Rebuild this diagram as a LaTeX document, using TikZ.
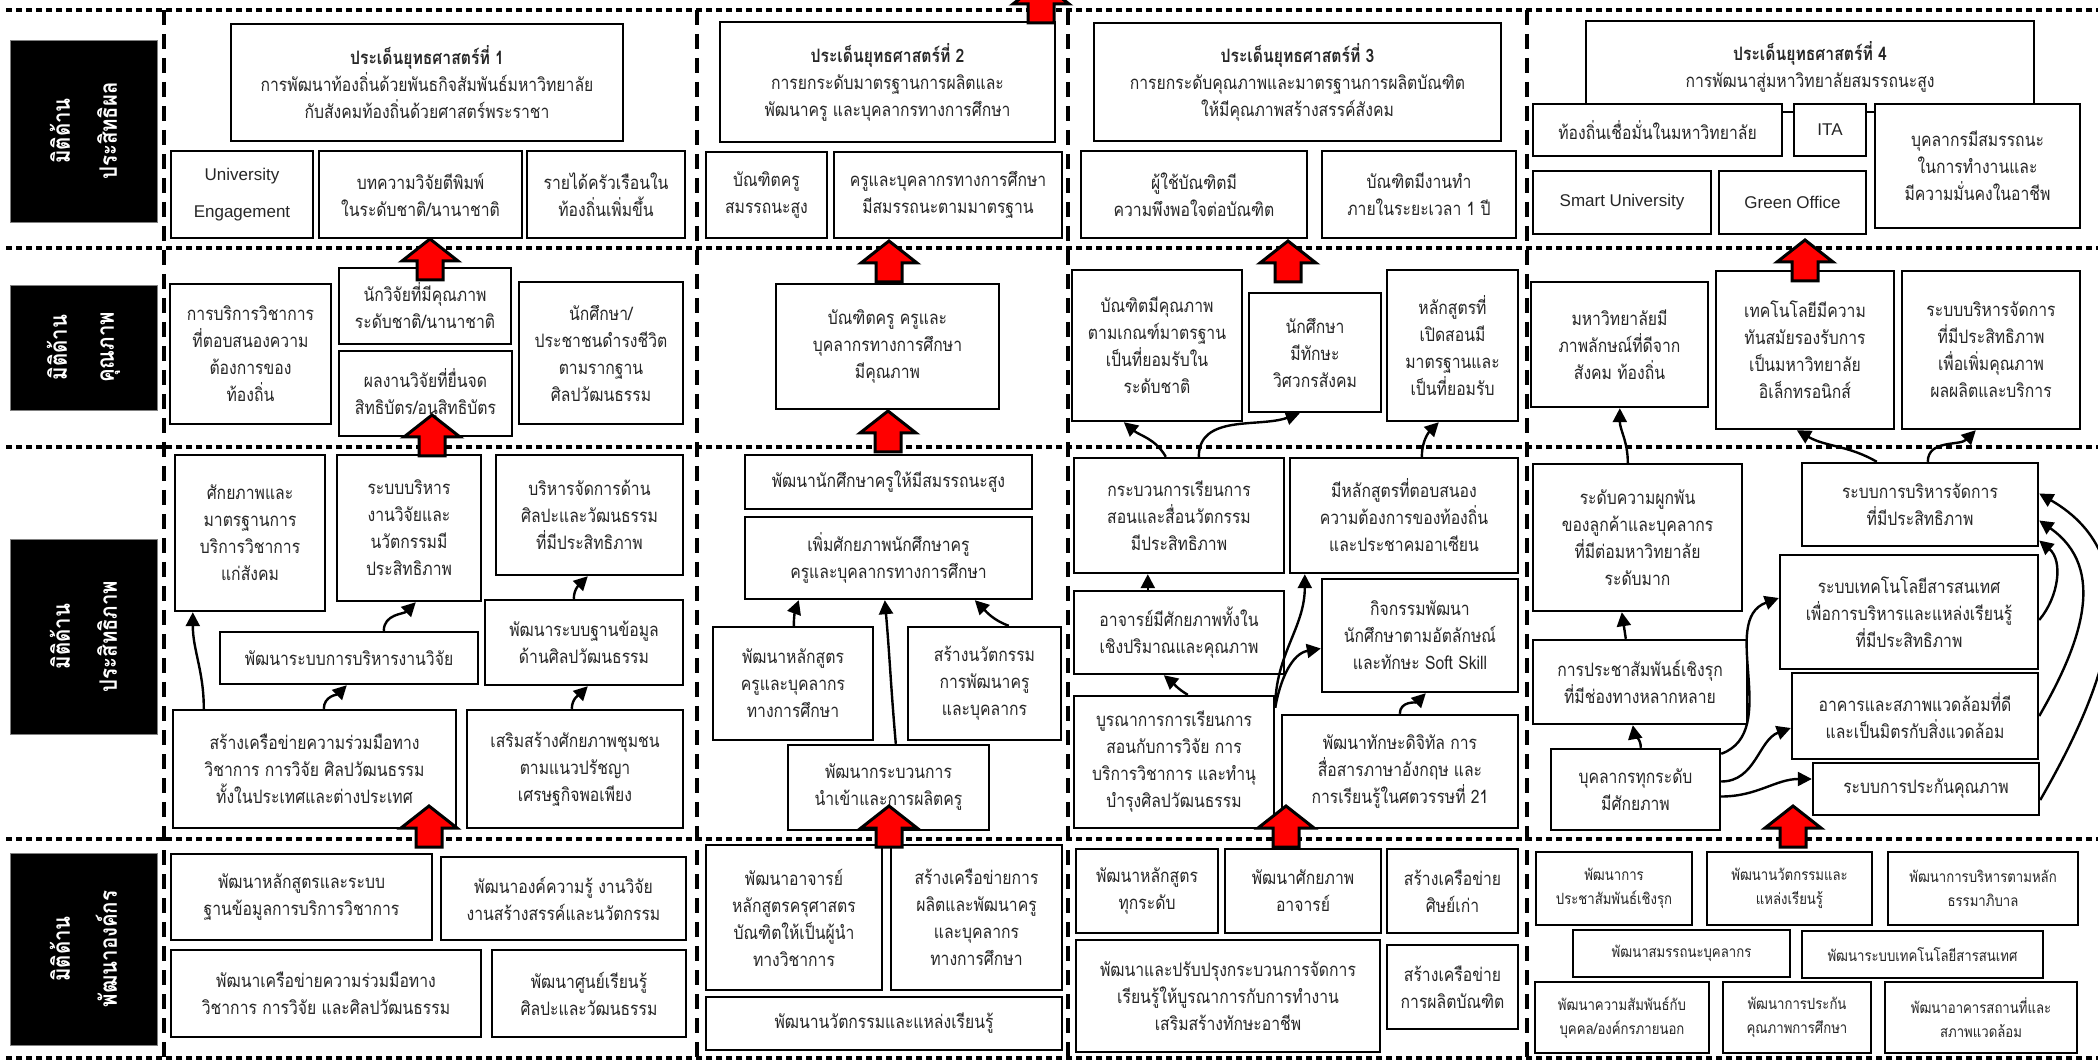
\documentclass[tikz,border=0pt]{standalone}
\usepackage{fontspec}
\setmainfont[Script=Thai,FakeStretch=0.85]{Loma}
\newfontfamily\latinfont{Liberation Sans}
\usetikzlibrary{arrows.meta}
\newcommand\tightlines{\lineskiplimit=-40pt\lineskip=0pt}
\tikzset{
 box/.style={draw=black, line width=2.4pt, fill=white, inner sep=0pt, align=center, text=black!85, font=\fontsize{18.5}{27}\selectfont\tightlines},
 small/.style={font=\fontsize{15.5}{24}\selectfont\tightlines},
 lat/.style={font=\latinfont\fontsize{17}{37}\selectfont},
 lab/.style={fill=black, draw=black!50, line width=0.8pt, text=white, align=center, inner sep=0pt, font=\bfseries\fontsize{24}{47}\selectfont\tightlines},
 hdots/.style={line width=4pt, dash pattern=on 6pt off 4pt},
 vdash/.style={line width=4pt, dash pattern=on 15pt off 9pt},
 arr/.style={line width=2.4pt, -{Triangle[length=14pt,width=14pt]}},
 redarr/.style={fill=red, draw=black, line width=3pt, line join=miter},
}
\newcommand\BX[7][]{\node[box,#1,minimum width={#5-#3},minimum height={#6-#4}] (#2) at ({(#3+#5)/2},{1061-(#4+#6)/2}) {#7};}
\newcommand\LB[6]{\node[lab,rotate=90,minimum width={#5-#3},minimum height={#4-#2}] (#1) at ({(#2+#4)/2},{1061-(#3+#5)/2}) {#6};}
\newcommand\RA[2]{\filldraw[redarr] ({#1},{1061-#2}) -- ({#1+28},{1061-#2-22}) -- ({#1+13},{1061-#2-22}) -- ({#1+13},{1061-#2-41}) -- ({#1-13},{1061-#2-41}) -- ({#1-13},{1061-#2-22}) -- ({#1-28},{1061-#2-22}) -- cycle;}
\begin{document}
\begin{tikzpicture}[x=1pt,y=1pt]
\useasboundingbox (0,0) rectangle (2098,1061);
\clip (0,0) rectangle (2098,1061);
\fill[white] (0,0) rectangle (2098,1061);
% grid
\foreach \yy in {10,248,447,839,1058} \draw[hdots] (6,{1061-\yy}) -- (2098,{1061-\yy});
\foreach \xx in {164,697,1068,1527} \draw[vdash] (\xx,1051) -- (\xx,3);
% labels
\LB{L1}{10}{40}{157}{222}{มิติด้าน\\ประสิทธิผล}
\LB{L2}{10}{285}{157}{410}{มิติด้าน\\คุณภาพ}
\LB{L3}{10}{539}{157}{734}{มิติด้าน\\ประสิทธิภาพ}
\LB{L4}{10}{853}{157}{1045}{มิติด้าน\\พัฒนาองค์กร}
% column 1
\BX{s1}{231}{24}{623}{141}{\textbf{ประเด็นยุทธศาสตร์ที่ 1}\\การพัฒนาท้องถิ่นด้วยพันธกิจสัมพันธ์มหาวิทยาลัย\\กับสังคมท้องถิ่นด้วยศาสตร์พระราชา}
\BX[lat]{a1}{171}{151}{313}{238}{University\\Engagement}
\BX{a2}{319}{151}{522}{238}{บทความวิจัยตีพิมพ์\\ในระดับชาติ/นานาชาติ}
\BX{a3}{527}{151}{685}{238}{รายได้ครัวเรือนใน\\ท้องถิ่นเพิ่มขึ้น}
\BX{b1}{170}{284}{331}{424}{การบริการวิชาการ\\ที่ตอบสนองความ\\ต้องการของ\\ท้องถิ่น}
\BX{b2}{339}{268}{511}{344}{นักวิจัยที่มีคุณภาพ\\ระดับชาติ/นานาชาติ}
\BX{b3}{339}{351}{512}{436}{ผลงานวิจัยที่ยื่นจด\\สิทธิบัตร/อนุสิทธิบัตร}
\BX{b4}{519}{282}{683}{424}{นักศึกษา/\\ประชาชนดำรงชีวิต\\ตามรากฐาน\\ศิลปวัฒนธรรม}
\BX{c1}{175}{455}{325}{611}{ศักยภาพและ\\มาตรฐานการ\\บริการวิชาการ\\แก่สังคม}
\BX{c2}{337}{455}{481}{601}{ระบบบริหาร\\งานวิจัยและ\\นวัตกรรมมี\\ประสิทธิภาพ}
\BX{c3}{496}{455}{683}{575}{บริหารจัดการด้าน\\ศิลปะและวัฒนธรรม\\ที่มีประสิทธิภาพ}
\BX{c4}{220}{632}{478}{684}{พัฒนาระบบการบริหารงานวิจัย}
\BX{c5}{485}{600}{683}{685}{พัฒนาระบบฐานข้อมูล\\ด้านศิลปวัฒนธรรม}
\BX{c6}{173}{710}{456}{828}{สร้างเครือข่ายความร่วมมือทาง\\วิชาการ การวิจัย ศิลปวัฒนธรรม\\ทั้งในประเทศและต่างประเทศ}
\BX{c7}{467}{710}{683}{828}{เสริมสร้างศักยภาพชุมชน\\ตามแนวปรัชญา\\เศรษฐกิจพอเพียง}
\BX{d1}{171}{854}{432}{940}{พัฒนาหลักสูตรและระบบ\\ฐานข้อมูลการบริการวิชาการ}
\BX{d2}{441}{857}{686}{940}{พัฒนาองค์ความรู้ งานวิจัย\\งานสร้างสรรค์และนวัตกรรม}
\BX{d3}{171}{950}{481}{1037}{พัฒนาเครือข่ายความร่วมมือทาง\\วิชาการ การวิจัย และศิลปวัฒนธรรม}
\BX{d4}{492}{950}{686}{1037}{พัฒนาศูนย์เรียนรู้\\ศิลปะและวัฒนธรรม}
% column 2
\BX{s2}{720}{22}{1055}{142}{\textbf{ประเด็นยุทธศาสตร์ที่ 2}\\การยกระดับมาตรฐานการผลิตและ\\พัฒนาครู และบุคลากรทางการศึกษา}
\BX{e1}{706}{152}{827}{238}{บัณฑิตครู\\สมรรถนะสูง}
\BX{e2}{834}{152}{1062}{238}{ครูและบุคลากรทางการศึกษา\\มีสมรรถนะตามมาตรฐาน}
\BX{f1}{776}{284}{999}{409}{บัณฑิตครู ครูและ\\บุคลากรทางการศึกษา\\มีคุณภาพ}
\BX{g1}{745}{455}{1032}{509}{พัฒนานักศึกษาครูให้มีสมรรถนะสูง}
\BX{g2}{745}{517}{1032}{599}{เพิ่มศักยภาพนักศึกษาครู\\ครูและบุคลากรทางการศึกษา}
\BX{g3}{713}{627}{873}{740}{พัฒนาหลักสูตร\\ครูและบุคลากร\\ทางการศึกษา}
\BX{g4}{908}{627}{1061}{740}{สร้างนวัตกรรม\\การพัฒนาครู\\และบุคลากร}
\BX{g5}{788}{745}{989}{830}{พัฒนากระบวนการ\\นำเข้าและการผลิตครู}
\BX{h1}{706}{845}{882}{990}{พัฒนาอาจารย์\\หลักสูตรครุศาสตร\\บัณฑิตให้เป็นผู้นำ\\ทางวิชาการ}
\BX{h2}{891}{845}{1062}{990}{สร้างเครือข่ายการ\\ผลิตและพัฒนาครู\\และบุคลากร\\ทางการศึกษา}
\BX{h3}{706}{997}{1062}{1050}{พัฒนานวัตกรรมและแหล่งเรียนรู้}
% column 3
\BX{s3}{1094}{23}{1501}{141}{\textbf{ประเด็นยุทธศาสตร์ที่ 3}\\การยกระดับคุณภาพและมาตรฐานการผลิตบัณฑิต\\ให้มีคุณภาพสร้างสรรค์สังคม}
\BX{i1}{1081}{151}{1307}{238}{ผู้ใช้บัณฑิตมี\\ความพึงพอใจต่อบัณฑิต}
\BX{i2}{1322}{151}{1516}{238}{บัณฑิตมีงานทำ\\ภายในระยะเวลา 1 ปี}
\BX{j1}{1072}{270}{1242}{421}{บัณฑิตมีคุณภาพ\\ตามเกณฑ์มาตรฐาน\\เป็นที่ยอมรับใน\\ระดับชาติ}
\BX{j2}{1249}{293}{1381}{412}{นักศึกษา\\มีทักษะ\\วิศวกรสังคม}
\BX{j3}{1387}{270}{1518}{421}{หลักสูตรที่\\เปิดสอนมี\\มาตรฐานและ\\เป็นที่ยอมรับ}
\BX{k1}{1074}{458}{1284}{573}{กระบวนการเรียนการ\\สอนและสื่อนวัตกรรม\\มีประสิทธิภาพ}
\BX{k2}{1290}{458}{1518}{573}{มีหลักสูตรที่ตอบสนอง\\ความต้องการของท้องถิ่น\\และประชาคมอาเซียน}
\BX{k3}{1074}{591}{1284}{674}{อาจารย์มีศักยภาพทั้งใน\\เชิงปริมาณและคุณภาพ}
\BX{k4}{1322}{579}{1518}{692}{กิจกรรมพัฒนา\\นักศึกษาตามอัตลักษณ์\\และทักษะ Soft Skill}
\BX{k5}{1074}{696}{1274}{828}{บูรณาการการเรียนการ\\สอนกับการวิจัย การ\\บริการวิชาการ และทำนุ\\บำรุงศิลปวัฒนธรรม}
\BX{k6}{1282}{715}{1518}{828}{พัฒนาทักษะดิจิทัล การ\\สื่อสารภาษาอังกฤษ และ\\การเรียนรู้ในศตวรรษที่ 21}
\BX{l1}{1076}{849}{1218}{933}{พัฒนาหลักสูตร\\ทุกระดับ}
\BX{l2}{1225}{849}{1381}{933}{พัฒนาศักยภาพ\\อาจารย์}
\BX{l3}{1387}{849}{1518}{933}{สร้างเครือข่าย\\ศิษย์เก่า}
\BX{l4}{1076}{940}{1380}{1052}{พัฒนาและปรับปรุงกระบวนการจัดการ\\เรียนรู้ให้บูรณาการกับการทำงาน\\เสริมสร้างทักษะอาชีพ}
\BX{l5}{1387}{945}{1518}{1029}{สร้างเครือข่าย\\การผลิตบัณฑิต}
% column 4
\BX{s4}{1586}{21}{2034}{112}{\textbf{ประเด็นยุทธศาสตร์ที่ 4}\\การพัฒนาสู่มหาวิทยาลัยสมรรถนะสูง}
\BX{m1}{1533}{104}{1782}{156}{ท้องถิ่นเชื่อมั่นในมหาวิทยาลัย}
\BX[lat]{m2}{1794}{104}{1866}{156}{ITA}
\BX{m3}{1875}{104}{2080}{228}{บุคลากรมีสมรรถนะ\\ในการทำงานและ\\มีความมั่นคงในอาชีพ}
\BX[lat]{m4}{1533}{171}{1711}{234}{Smart University}
\BX[lat]{m5}{1719}{171}{1866}{234}{Green Office}
\BX{n1}{1531}{282}{1708}{407}{มหาวิทยาลัยมี\\ภาพลักษณ์ที่ดีจาก\\สังคม ท้องถิ่น}
\BX{n2}{1716}{271}{1894}{429}{เทคโนโลยีมีความ\\ทันสมัยรองรับการ\\เป็นมหาวิทยาลัย\\อิเล็กทรอนิกส์}
\BX{n3}{1902}{271}{2080}{429}{ระบบบริหารจัดการ\\ที่มีประสิทธิภาพ\\เพื่อเพิ่มคุณภาพ\\ผลผลิตและบริการ}
\BX{o1}{1533}{464}{1742}{611}{ระดับความผูกพัน\\ของลูกค้าและบุคลากร\\ที่มีต่อมหาวิทยาลัย\\ระดับมาก}
\BX{o2}{1802}{463}{2038}{546}{ระบบการบริหารจัดการ\\ที่มีประสิทธิภาพ}
\BX{o3}{1780}{555}{2038}{669}{ระบบเทคโนโลยีสารสนเทศ\\เพื่อการบริหารและแหล่งเรียนรู้\\ที่มีประสิทธิภาพ}
\BX{o4}{1792}{673}{2038}{759}{อาคารและสภาพแวดล้อมที่ดี\\และเป็นมิตรกับสิ่งแวดล้อม}
\BX{o5}{1813}{763}{2039}{815}{ระบบการประกันคุณภาพ}
\BX{o6}{1533}{640}{1747}{724}{การประชาสัมพันธ์เชิงรุก\\ที่มีช่องทางหลากหลาย}
\BX{o7}{1551}{749}{1720}{830}{บุคลากรทุกระดับ\\มีศักยภาพ}
\BX[small]{p1}{1536}{852}{1692}{925}{พัฒนาการ\\ประชาสัมพันธ์เชิงรุก}
\BX[small]{p2}{1707}{852}{1872}{925}{พัฒนานวัตกรรมและ\\แหล่งเรียนรู้}
\BX[small]{p3}{1888}{852}{2078}{925}{พัฒนาการบริหารตามหลัก\\ธรรมาภิบาล}
\BX[small]{p4}{1573}{930}{1790}{977}{พัฒนาสมรรถนะบุคลากร}
\BX[small]{p5}{1802}{931}{2043}{978}{พัฒนาระบบเทคโนโลยีสารสนเทศ}
\BX[small]{p6}{1535}{982}{1709}{1053}{พัฒนาความสัมพันธ์กับ\\บุคคล/องค์กรภายนอก}
\BX[small]{p7}{1723}{982}{1871}{1053}{พัฒนาการประกัน\\คุณภาพการศึกษา}
\BX[small]{p8}{1885}{982}{2077}{1053}{พัฒนาอาคารสถานที่และ\\สภาพแวดล้อม}
% black connectors
\draw[arr] ([xshift=32pt]c6.north west) to[out=90,in=-90] ([xshift=19pt]c1.south west);
\draw[arr] ([xshift=152pt]c6.north west) to[out=90,in=225] ([xshift=128pt]c4.south west);
\draw[arr] ([xshift=165pt]c4.north west) to[out=90,in=225] ([xshift=80pt]c2.south west);
\draw[arr] ([xshift=90pt]c5.north west) to[out=90,in=225] ([xshift=93pt]c3.south west);
\draw[arr] ([xshift=106pt]c7.north west) to[out=90,in=225] ([xshift=104pt]c5.south west);
\draw[arr] ([xshift=82pt]g3.north west) to[out=90,in=250] ([xshift=55pt]g2.south west);
\draw[arr] ([xshift=109pt]g5.north west) to[out=95,in=-85] ([xshift=141pt]g2.south west);
\draw[arr] ([xshift=102pt]g4.north west) to[out=160,in=-45] ([xshift=231pt]g2.south west);
\draw[arr] ([xshift=93pt]k1.north west) to[out=120,in=-40] ([xshift=53pt]j1.south west);
\draw[arr] ([xshift=126pt]k1.north west) to[out=90,in=200] ([xshift=52pt]j2.south west);
\draw[arr] ([xshift=133pt]k2.north west) to[out=90,in=225] ([xshift=53pt]j3.south west);
\draw[arr] ([xshift=75pt]k3.north west) -- ([xshift=75pt]k1.south west);
\draw[arr] ([xshift=115pt]k5.north west) to[out=150,in=-40] ([xshift=91pt]k3.south west);
\draw[arr] ([yshift=-13pt]k5.north east) to[out=90,in=-90] ([xshift=16pt]k2.south west);
\draw[arr] ([yshift=-13pt]k5.north east) to[out=80,in=190] ([yshift=-13pt]k4.west);
\draw[arr] ([xshift=119pt]k6.north west) to[out=90,in=225] ([xshift=105pt]k4.south west);
\draw[arr] ([xshift=96pt]o1.north west) to[out=90,in=-90] ([xshift=90pt]n1.south west);
\draw[arr] ([xshift=94pt]o6.north west) -- ([xshift=90pt]o1.south west);
\draw[arr] ([xshift=91pt]o7.north west) to[out=90,in=-80] ([xshift=101pt]o6.south west);
\draw[arr] ([yshift=-6pt]o7.north east) to[out=20,in=200] ([yshift=14pt]o3.west);
\draw[arr] ([yshift=8pt]o7.east) to[out=0,in=200] ([yshift=-12pt]o4.west);
\draw[arr] ([yshift=-7pt]o7.east) to[out=0,in=180] ([yshift=10pt]o5.west);
\draw[arr] ([xshift=76pt]o2.north west) to[out=150,in=-30] ([xshift=82pt]n2.south west);
\draw[arr] ([xshift=127pt]o2.north west) to[out=90,in=225] ([xshift=75pt]n3.south west);
\draw[arr] ([yshift=-8pt]o3.east) to[out=50,in=-40] ([yshift=-36pt]o2.east);
\draw[arr] (o4.east) to[out=60,in=-35,looseness=1.1] ([yshift=-16pt]o2.east);
\draw[arr] ([yshift=-11pt]o5.east) to[out=60,in=-30,looseness=1.1] ([yshift=11pt]o2.east);
% red block arrows
\RA{430}{239}
\RA{432}{415}
\RA{429}{806}
\RA{889}{241}
\RA{888}{411}
\RA{889}{806}
\RA{1288}{241}
\RA{1286}{806}
\RA{1805}{240}
\RA{1793}{806}
\RA{1041}{-18}
\end{tikzpicture}
\end{document}
